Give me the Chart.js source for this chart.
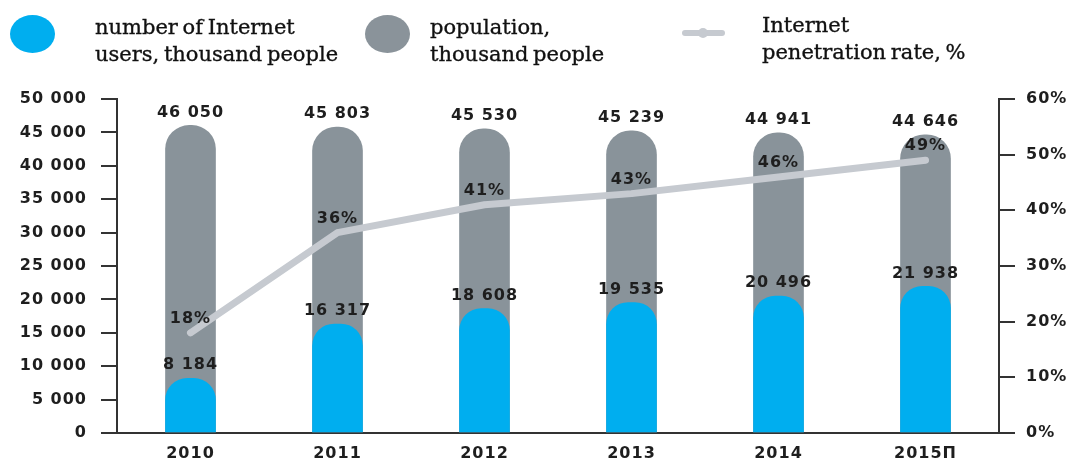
<!DOCTYPE html>
<html>
<head>
<meta charset="utf-8">
<script src="https://cdn.jsdelivr.net/npm/chart.js@4.4.1/dist/chart.umd.min.js"></script>
<style>
  html, body { margin: 0; padding: 0; background: #fff; }
  #wrap { position: relative; width: 1072px; height: 461px; overflow: hidden; }
  #chart { position: absolute; left: 0; top: 0; }
  .lg { position: absolute; font-family: "DejaVu Serif", "Liberation Serif", serif; font-size: 21px;
        line-height: 27px; color: #111; white-space: nowrap; word-spacing: -2px;
        -webkit-text-stroke: 0.35px #111; }
  .dot { position: absolute; width: 45px; height: 38px; border-radius: 50%; }
  .lline { position: absolute; left: 682px; top: 30px; width: 43px; height: 6px; background: #c6cad0; border-radius: 3px; }
  .lline:after { content: ''; position: absolute; left: 16px; top: -2px; width: 10px; height: 10px; border-radius: 50%; background: #c6cad0; }
</style>
</head>
<body>
<div id="wrap">
  <canvas id="chart" width="1072" height="461"></canvas>
  <div class="dot" style="left:10px;top:15px;background:#00aeef"></div>
  <div class="lg" style="left:95px;top:14px">number of Internet<br>users, thousand people</div>
  <div class="dot" style="left:365px;top:15px;background:#8a939a"></div>
  <div class="lg" style="left:430px;top:14px">population,<br>thousand people</div>
  <div class="lline"></div>
  <div class="lg" style="left:762px;top:12px">Internet<br>penetration rate, %</div>
</div>
<script>
// данные
const years = ['2010', '2011', '2012', '2013', '2014', '2015П'];
const users = [8184, 16317, 18608, 19535, 20496, 21938];
const population = [46050, 45803, 45530, 45239, 44941, 44646];
const penetration = [18, 36, 41, 43, 46, 49];

const BLUE = '#00aeef';
const GRAY = '#89939a';
const LINE = '#c6cad0';
const INK = '#1e1e1e';
const numFont = { family: '"DejaVu Sans", Verdana, sans-serif', size: 16, weight: 'bold' };

const fmt = v => String(v).replace(/\B(?=(\d{3})+(?!\d))/g, ' ');

// чуть разрядить цифры, как в оригинале
const spacing = {
    id: 'spacing',
    beforeUpdate(chart) { chart.ctx.letterSpacing = '1px'; },
    beforeDraw(chart) { chart.ctx.letterSpacing = '1px'; },
};

// подписи значений над столбцами и точками
const valueLabels = {
    id: 'valueLabels',
    afterDatasetsDraw(chart) {
        const ctx = chart.ctx;
        ctx.save();
        ctx.letterSpacing = '1px';
        ctx.font = `bold ${numFont.size}px ${numFont.family}`;
        ctx.fillStyle = INK;
        ctx.textAlign = 'center';
        ctx.textBaseline = 'bottom';
        chart.data.datasets.forEach((ds, di) => {
            const meta = chart.getDatasetMeta(di);
            meta.data.forEach((el, i) => {
                const v = ds.data[i];
                const txt = ds.type === 'line' ? v + '%' : fmt(v);
                const gap = ds.type === 'line' ? 6 : 5;
                ctx.fillText(txt, el.x, el.y - gap);
            });
        });
        ctx.restore();
    },
};

new Chart(document.getElementById('chart'), {
    data: {
        labels: years,
        datasets: [
            {
                type: 'line',
                label: 'Internet penetration rate, %',
                data: penetration,
                yAxisID: 'y1',
                borderColor: LINE,
                backgroundColor: LINE,
                borderWidth: 7,
                borderCapStyle: 'round',
                borderJoinStyle: 'round',
                pointRadius: 3,
                pointBorderWidth: 0,
                tension: 0,
                order: 0,
            },
            {
                type: 'bar',
                label: 'number of Internet users, thousand people',
                data: users,
                yAxisID: 'y',
                backgroundColor: BLUE,
                grouped: false,
                barThickness: 50,
                borderRadius: { topLeft: 22, topRight: 22 },
                borderSkipped: 'bottom',
                order: 1,
            },
            {
                type: 'bar',
                label: 'population, thousand people',
                data: population,
                yAxisID: 'y',
                backgroundColor: GRAY,
                grouped: false,
                barThickness: 50,
                borderRadius: { topLeft: 24, topRight: 24 },
                borderSkipped: 'bottom',
                order: 2,
            },
        ],
    },
    options: {
        responsive: false,
        animation: false,
        layout: { padding: { top: 99, left: 0, right: 0, bottom: 0 } },
        plugins: { legend: { display: false }, tooltip: { enabled: false } },
        scales: {
            x: {
                offset: true,
                grid: { display: false },
                border: { display: true, color: '#333', width: 2 },
                ticks: { color: INK, font: numFont, padding: 3, maxRotation: 0 },
                afterFit: (s) => { s.height = 28; },
            },
            y: {
                position: 'left',
                min: 0, max: 50000,
                grid: { drawOnChartArea: false, tickLength: 16, color: '#333', lineWidth: 2 },
                border: { display: true, color: '#333', width: 2 },
                ticks: { stepSize: 5000, color: INK, font: numFont, padding: 14, callback: v => fmt(v) },
                afterFit: (s) => { s.width = 117; },
            },
            y1: {
                position: 'right',
                min: 0, max: 60,
                grid: { drawOnChartArea: false, tickLength: 16, color: '#333', lineWidth: 2 },
                border: { display: true, color: '#333', width: 2 },
                ticks: { stepSize: 10, color: INK, font: numFont, padding: 11, callback: v => v + '%' },
                afterFit: (s) => { s.width = 73; },
            },
        },
    },
    plugins: [spacing, valueLabels],
});
</script>
</body>
</html>
